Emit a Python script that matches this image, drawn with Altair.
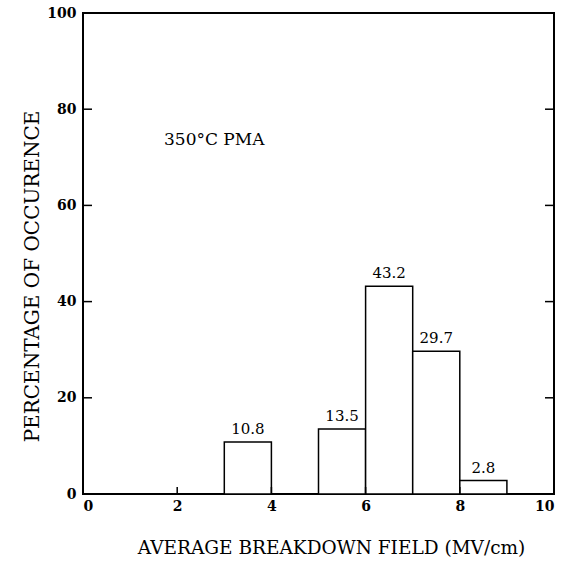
import altair as alt
import pandas as pd

# Histogram bins (MV/cm) and percentage of occurrence
bin_start = [3, 5, 6, 7, 8]
bin_end = [4, 6, 7, 8, 9]
percent = [10.8, 13.5, 43.2, 29.7, 2.8]

x_ticks = [0, 2, 4, 6, 8, 10]
y_ticks = [0, 20, 40, 60, 80, 100]

FONT = "DejaVu Serif"

bars = pd.DataFrame({"lo": bin_start, "hi": bin_end, "pct": percent})
bars["mid"] = (bars["lo"] + bars["hi"]) / 2
bars["label"] = bars["pct"].map(lambda v: f"{v:.1f}")

x_scale = alt.Scale(domain=[0, 10], nice=False)
y_scale = alt.Scale(domain=[0, 100], nice=False)

base = alt.Chart(bars)

rects = base.mark_rect(fill="white", stroke="black", strokeWidth=1.5).encode(
    x=alt.X(
        "lo:Q",
        scale=x_scale,
        axis=alt.Axis(
            values=x_ticks, ticks=False, grid=False, domain=False,
            labelFont=FONT, labelFontSize=14, labelFontWeight="bold",
            labelColor="black", labelPadding=5,
            title="AVERAGE BREAKDOWN FIELD (MV/cm)",
            titleFont=FONT, titleFontSize=18.5, titleFontWeight="normal",
            titleColor="black", titlePadding=25, titleX=248,
        ),
    ),
    x2="hi:Q",
    y=alt.Y(
        "pct:Q",
        scale=y_scale,
        axis=alt.Axis(
            values=y_ticks, ticks=False, grid=False, domain=False,
            labelFont=FONT, labelFontSize=14, labelFontWeight="bold",
            labelColor="black", labelPadding=7,
            title="PERCENTAGE OF OCCURENCE",
            titleFont=FONT, titleFontSize=20, titleFontWeight="normal",
            titleColor="black", titlePadding=4, titleY=263,
        ),
    ),
    y2=alt.datum(0),
)

labels = base.mark_text(
    font=FONT, fontSize=15, color="black", baseline="bottom", dy=-5
).encode(x="mid:Q", y="pct:Q", text="label:N")

# Inward tick marks on all four sides
xt = pd.DataFrame({"v": x_ticks})
yt = pd.DataFrame({"v": y_ticks})

bottom_ticks = alt.Chart(xt).mark_rule(color="black", strokeWidth=1.5).encode(
    x="v:Q", y=alt.value(481), y2=alt.value(474)
)
left_ticks = alt.Chart(yt).mark_rule(color="black", strokeWidth=1.5).encode(
    y="v:Q", x=alt.value(0), x2=alt.value(9)
)
right_ticks = alt.Chart(yt).mark_rule(color="black", strokeWidth=1.5).encode(
    y="v:Q", x=alt.value(471), x2=alt.value(462)
)

note = alt.Chart(pd.DataFrame({"t": ["350°C PMA"]})).mark_text(
    font=FONT, fontSize=17, color="black", align="left", baseline="middle"
).encode(x=alt.value(81), y=alt.value(127), text="t:N")

chart = (
    alt.layer(rects, labels, bottom_ticks, left_ticks, right_ticks, note)
    .properties(
        width=471,
        height=481,
        autosize=alt.AutoSizeParams(type="none"),
        padding={"left": 83, "top": 13, "right": 9, "bottom": 70},
        background="white",
    )
    .configure_view(stroke="black", strokeWidth=2)
)

chart.save("out.html", embed_options={"renderer": "svg", "actions": False})
